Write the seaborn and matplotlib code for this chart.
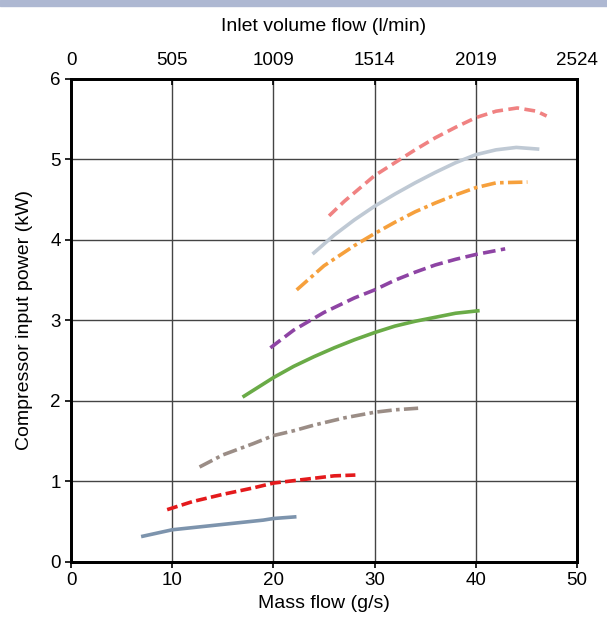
import pandas as pd
import matplotlib.pyplot as plt
import seaborn as sns

# mass flow (g/s) vs compressor power (kW), one list pair per curve
x_blue = [7.1, 10, 13, 16, 19, 20, 22.1]
y_blue = [0.32, 0.40, 0.44, 0.48, 0.52, 0.54, 0.56]
x_red = [9.5, 12, 15, 18, 20, 22, 24, 26, 28.1]
y_red = [0.65, 0.75, 0.84, 0.92, 0.98, 1.01, 1.04, 1.07, 1.08]
x_grey = [12.7, 15, 18, 20, 22, 24, 27, 30, 32, 34.3]
y_grey = [1.18, 1.33, 1.47, 1.57, 1.63, 1.70, 1.79, 1.86, 1.89, 1.91]
x_green = [17.1, 20, 22, 24, 26, 28, 30, 32, 34, 36, 38, 40.2]
y_green = [2.06, 2.29, 2.43, 2.55, 2.66, 2.76, 2.85, 2.93, 2.99, 3.04, 3.09, 3.12]
x_purple = [19.7, 22, 25, 28, 30, 32, 34, 36, 38, 40, 42.9]
y_purple = [2.66, 2.88, 3.10, 3.28, 3.38, 3.50, 3.60, 3.69, 3.76, 3.82, 3.89]
x_orange = [22.3, 25, 28, 30, 32, 34, 36, 38, 40, 42, 45.1]
y_orange = [3.38, 3.68, 3.93, 4.08, 4.22, 4.35, 4.46, 4.56, 4.65, 4.71, 4.72]
x_light = [24.0, 26, 28, 30, 32, 34, 36, 38, 40, 42, 44, 46.1]
y_light = [3.84, 4.06, 4.25, 4.42, 4.57, 4.71, 4.84, 4.96, 5.06, 5.12, 5.15, 5.13]
x_salmon = [25.5, 27, 30, 32, 34, 36, 38, 40, 42, 44.1, 46, 47.0]
y_salmon = [4.30, 4.48, 4.80, 4.96, 5.12, 5.27, 5.40, 5.52, 5.60, 5.64, 5.60, 5.54]

top_ticks = ['0', '505', '1009', '1514', '2019', '2524']

curves = [
    (x_blue, y_blue, '#7d94ad', '-'),
    (x_red, y_red, '#e41a1c', (0, (3, 1.2))),
    (x_grey, y_grey, '#9b8d86', (0, (4, 1.2, 1, 1.2))),
    (x_green, y_green, '#6aab47', '-'),
    (x_purple, y_purple, '#8e44a4', (0, (3.5, 1.5))),
    (x_orange, y_orange, '#f6a03c', (0, (4, 1.2, 1, 1.2))),
    (x_light, y_light, '#bfc9d4', '-'),
    (x_salmon, y_salmon, '#f08282', (0, (3, 1.5))),
]

plt.rcParams['font.family'] = ['Liberation Sans', 'DejaVu Sans']
fig = plt.figure(figsize=(6.07, 6.24), dpi=100)
ax = fig.add_axes([0.117, 0.0994, 0.8336, 0.774])

for xs, ys, col, ls in curves:
    df = pd.DataFrame({'m': xs, 'p': ys})
    sns.lineplot(data=df, x='m', y='p', ax=ax, color=col, linestyle=ls,
                 linewidth=2.6, sort=False, estimator=None)

ax.set_xlim(0, 50)
ax.set_ylim(0, 6)
ax.set_xticks(range(0, 51, 10))
ax.set_yticks(range(0, 7))
ax.grid(True, color='#444444', linewidth=1.0)
ax.set_axisbelow(True)
ax.set_xlabel('Mass flow (g/s)', fontsize=14, labelpad=4)
ax.set_ylabel('Compressor input power (kW)', fontsize=14, labelpad=12)
ax.tick_params(axis='both', labelsize=13.5, direction='out', length=4, width=1.2)
for s in ax.spines.values():
    s.set_color('black')
    s.set_linewidth(2)

top = ax.twiny()
top.set_xlim(0, 50)
top.set_xticks(range(0, 51, 10))
top.set_xticklabels(top_ticks)
top.tick_params(axis='x', labelsize=13.5, direction='in', length=4, width=1.2, pad=7)
top.set_xlabel('Inlet volume flow (l/min)', fontsize=14, labelpad=15)
for s in top.spines.values():
    s.set_color('black')
    s.set_linewidth(2)

# thin coloured band along the top edge
fig.patches.append(plt.Rectangle((0, 0.991), 1, 0.009, transform=fig.transFigure,
                                 color='#aeb8d2', zorder=0))

fig.savefig('out.png', dpi=100)
